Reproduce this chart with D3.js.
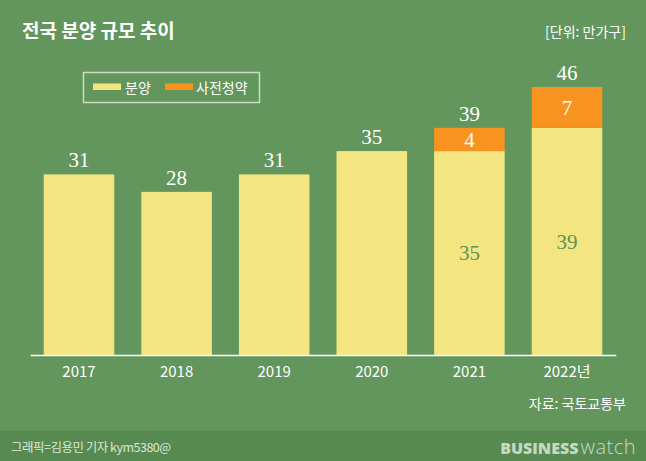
<!DOCTYPE html>
<html><head><meta charset="utf-8">
<script src="https://cdn.jsdelivr.net/npm/d3@7/dist/d3.min.js"></script>
<style>html,body{margin:0;padding:0;background:#62965c;}svg{display:block;}</style>
</head><body>
<script>
const categories = ["2017","2018","2019","2020","2021","2022년"];
const bunyang = [31,28,31,35,35,39];
const sajeon = [0,0,0,0,4,7];
const totals = [31,28,31,35,39,46];
const seriesNames = ["분양","사전청약"];

const W=646,H=461;
const C={bg:"#62965c",footer:"#578a50",yellow:"#f3e580",orange:"#f7931e",green:"#5f935a",white:"#ffffff"};
const svg=d3.select("body").append("svg").attr("width",W).attr("height",H);
svg.append("rect").attr("width",W).attr("height",H).attr("fill",C.bg);
svg.append("rect").attr("y",431).attr("width",W).attr("height",30).attr("fill",C.footer);

const x=d3.scaleBand().domain(categories).range([30.2,615.8]).paddingInner(0.277).paddingOuter(0.1385);
const y=d3.scaleLinear().domain([0,46]).range([355,87]);
const kr="'Noto Sans CJK KR','Noto Sans',sans-serif";
const serif="'Liberation Serif','DejaVu Serif',serif";

const data=categories.map((c,i)=>({c,b:bunyang[i],s:sajeon[i],t:totals[i]}));
// yellow
svg.append("g").selectAll("rect").data(data).join("rect")
 .attr("x",d=>x(d.c)).attr("width",x.bandwidth())
 .attr("y",d=>y(d.b)).attr("height",d=>y(0)-y(d.b)).attr("fill",C.yellow);
// orange
svg.append("g").selectAll("rect").data(data.filter(d=>d.s>0)).join("rect")
 .attr("x",d=>x(d.c)).attr("width",x.bandwidth())
 .attr("y",d=>y(d.b+d.s)).attr("height",d=>y(d.b)-y(d.b+d.s)).attr("fill",C.orange);
// axis
const ax=svg.append("g").attr("transform","translate(0,355)").call(d3.axisBottom(x).tickSize(0).tickPadding(11));
ax.select(".domain").attr("stroke",C.white).attr("stroke-width",1.5);
ax.selectAll("text").attr("fill",C.white).style("font-family",kr).style("font-size","15px");
// total labels
svg.append("g").selectAll("text").data(data).join("text")
 .attr("x",d=>x(d.c)+x.bandwidth()/2).attr("y",d=>y(d.t)-7)
 .attr("text-anchor","middle").attr("fill",C.white)
 .style("font-family",serif).style("font-size","21px").text(d=>d.t);
// inner labels
const st=data.filter(d=>d.s>0);
svg.append("g").selectAll("text").data(st).join("text")
 .attr("x",d=>x(d.c)+x.bandwidth()/2).attr("y",d=>(y(d.b)+y(d.b+d.s))/2)
 .attr("dy","0.35em").attr("text-anchor","middle").attr("fill",C.white)
 .style("font-family",serif).style("font-size","21px").text(d=>d.s);
svg.append("g").selectAll("text").data(st).join("text")
 .attr("x",d=>x(d.c)+x.bandwidth()/2).attr("y",d=>(y(0)+y(d.b))/2)
 .attr("dy","0.35em").attr("text-anchor","middle").attr("fill",C.green)
 .style("font-family",serif).style("font-size","21px").text(d=>d.b);

// title
svg.append("text").attr("x",22).attr("y",38).attr("fill",C.white)
 .style("font-family",kr).style("font-weight","bold").style("font-size","19px").text("전국 분양 규모 추이");
svg.append("text").attr("x",626).attr("y",37).attr("text-anchor","end").attr("fill",C.white)
 .style("font-family",kr).style("font-size","14px").text("[단위: 만가구]");
// legend
svg.append("rect").attr("x",83.5).attr("y",72.5).attr("width",176).attr("height",30)
 .attr("fill","none").attr("stroke","#c9dcc4").attr("stroke-width",1.5);
const lg=[{n:seriesNames[0],c:C.yellow,x:93,tx:125},{n:seriesNames[1],c:C.orange,x:165,tx:196}];
lg.forEach(l=>{
 svg.append("rect").attr("x",l.x).attr("y",83.5).attr("width",28).attr("height",6.5).attr("fill",l.c);
 svg.append("text").attr("x",l.tx).attr("y",93).attr("fill",C.white)
  .style("font-family",kr).style("font-size","14px").text(l.n);
});
// source
svg.append("text").attr("x",626).attr("y",409).attr("text-anchor","end").attr("fill",C.white)
 .style("font-family",kr).style("font-size","14px").text("자료: 국토교통부");
// footer
svg.append("text").attr("x",11).attr("y",452).attr("fill","#dbe7d6")
 .style("font-family",kr).style("font-size","12.5px").style("letter-spacing","-0.5px").text("그래픽=김용민 기자 kym5380@");
const bw=svg.append("text").attr("x",636).attr("y",454).attr("text-anchor","end").attr("fill","#c6d9c2")
 .style("font-family","'Open Sans','DejaVu Sans',sans-serif");
bw.append("tspan").style("font-weight","900").style("font-size","16px").text("BUSINESS");
bw.append("tspan").style("font-weight","300").style("font-size","20px").style("letter-spacing","0.5px").attr("dx","2").text("watch");
</script>
</body></html>
